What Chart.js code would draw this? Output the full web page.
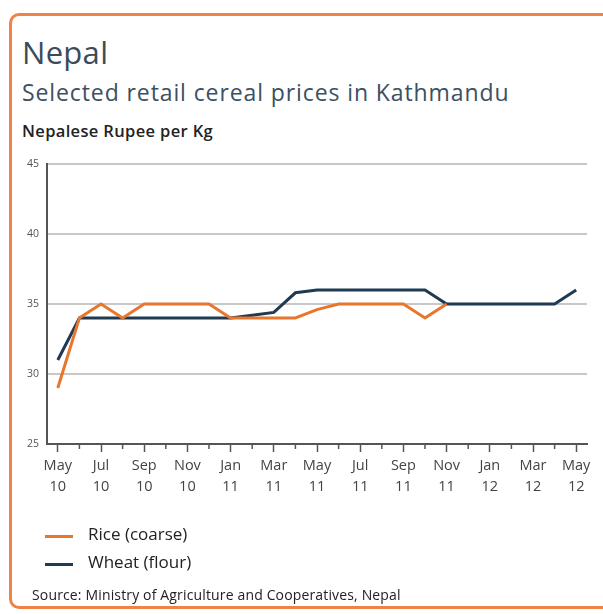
<!DOCTYPE html>
<html>
<head>
<meta charset="utf-8">
<script src="https://cdn.jsdelivr.net/npm/chart.js@4/dist/chart.umd.min.js"></script>
<style>
  html, body { margin:0; padding:0; background:#ffffff; }
  body { width:603px; height:614px; position:relative; overflow:hidden; font-family:"Open Sans", sans-serif; }
  #card { position:absolute; left:9px; top:13px; width:620px; height:596px; border:3px solid #ef8346; border-radius:10px; box-sizing:border-box; background:#fff; }
  .t { position:absolute; white-space:nowrap; line-height:normal; }
  #title { left:22px; top:31px; font-size:31px; color:#3b4b5a; letter-spacing:0.3px; }
  #subtitle { left:22px; top:76px; font-size:23px; color:#3b5060; letter-spacing:0.9px; }
  #unit { left:22px; top:119px; font-size:16.5px; color:#222; font-weight:600; letter-spacing:0.35px; }
  #wrap { position:absolute; left:0; top:0; width:603px; height:614px; }
  #legend { position:absolute; left:45px; top:520px; font-size:17px; color:#222; }
  .li { position:relative; height:28px; line-height:28px; padding-left:43px; white-space:nowrap; }
  .sw { position:absolute; left:0; top:15px; width:28px; height:3px; }
  #source { left:32px; top:585px; font-size:14px; color:#222; letter-spacing:0.15px; }
</style>
</head>
<body>
<div id="card"></div>
<div id="title" class="t">Nepal</div>
<div id="subtitle" class="t">Selected retail cereal prices in Kathmandu</div>
<div id="unit" class="t">Nepalese Rupee per Kg</div>
<div id="wrap"><canvas id="c" width="603" height="614"></canvas></div>
<div id="legend"></div>
<div id="source" class="t">Source: Ministry of Agriculture and Cooperatives, Nepal</div>
<script>
const months = ["May 10","Jun 10","Jul 10","Aug 10","Sep 10","Oct 10","Nov 10","Dec 10",
  "Jan 11","Feb 11","Mar 11","Apr 11","May 11","Jun 11","Jul 11","Aug 11","Sep 11","Oct 11","Nov 11","Dec 11",
  "Jan 12","Feb 12","Mar 12","Apr 12","May 12"];
const riceCoarse = [29,34,35,34,35,35,35,35,34,34,34,34,34.6,35,35,35,35,34,35,null,null,null,null,null,null];
const wheatFlour = [31,34,34,34,34,34,34,34,34,34.2,34.4,35.8,36,36,36,36,36,36,35,35,35,35,35,35,36];
const yTicks = [25,30,35,40,45];
const seriesNames = ["Rice (coarse)","Wheat (flour)"];
const seriesColors = ["#e8772e","#1f3a52"];

const minorTicks = {
  id: 'minorTicks',
  afterDraw(chart) {
    const s = chart.scales.x, ctx = chart.ctx;
    ctx.save();
    ctx.strokeStyle = '#555';
    ctx.lineWidth = 1.5;
    s.ticks.forEach((t, i) => {
      if (i % 2 === 1) {
        const x = s.getPixelForTick(i);
        ctx.beginPath();
        ctx.moveTo(x, s.top);
        ctx.lineTo(x, s.top + 5);
        ctx.stroke();
      }
    });
    ctx.restore();
  }
};

const chart = new Chart(document.getElementById('c'), {
  type: 'line',
  data: {
    labels: months,
    datasets: [
      { label: seriesNames[0], data: riceCoarse, borderColor: seriesColors[0], backgroundColor: seriesColors[0], borderWidth: 3, pointRadius: 0, tension: 0, spanGaps: false },
      { label: seriesNames[1], data: wheatFlour, borderColor: seriesColors[1], backgroundColor: seriesColors[1], borderWidth: 3, pointRadius: 0, tension: 0 }
    ]
  },
  options: {
    responsive: false,
    animation: false,
    devicePixelRatio: 1,
    layout: { padding: { left: 0, top: 164, right: 16, bottom: 0 } },
    plugins: { legend: { display: false }, tooltip: { enabled: false }, title: { display: false } },
    scales: {
      x: {
        type: 'category',
        offset: true,
        afterFit: (s) => { s.height = 170; },
        grid: { offset: false, drawOnChartArea: false, drawTicks: true, tickLength: 8,
          tickColor: (c) => (c.index % 2 === 0 ? '#555' : 'rgba(0,0,0,0)'), tickWidth: 1.5 },
        border: { color: '#555', width: 2 },
        ticks: {
          autoSkip: false, maxRotation: 0, minRotation: 0, padding: 4,
          color: '#444',
          font: { family: 'Open Sans', size: 14.5, lineHeight: 1.43 },
          callback: function(v, i) { return i % 2 === 0 ? months[i].split(' ') : ''; }
        }
      },
      y: {
        min: 25, max: 45,
        afterFit: (s) => { s.width = 47; },
        afterBuildTicks: (s) => { s.ticks = yTicks.map(v => ({ value: v })); },
        grid: { color: '#c8c8c8', lineWidth: 2, drawTicks: false },
        border: { color: '#555', width: 2 },
        ticks: { padding: 8, color: '#555', font: { family: 'Open Sans', size: 10.5 } }
      }
    }
  },
  plugins: [minorTicks]
});

const lg = document.getElementById('legend');
chart.data.datasets.forEach(ds => {
  const row = document.createElement('div'); row.className = 'li';
  const sw = document.createElement('span'); sw.className = 'sw'; sw.style.background = ds.borderColor;
  const tx = document.createElement('span'); tx.textContent = ds.label;
  row.appendChild(sw); row.appendChild(tx); lg.appendChild(row);
});
</script>
</body>
</html>
